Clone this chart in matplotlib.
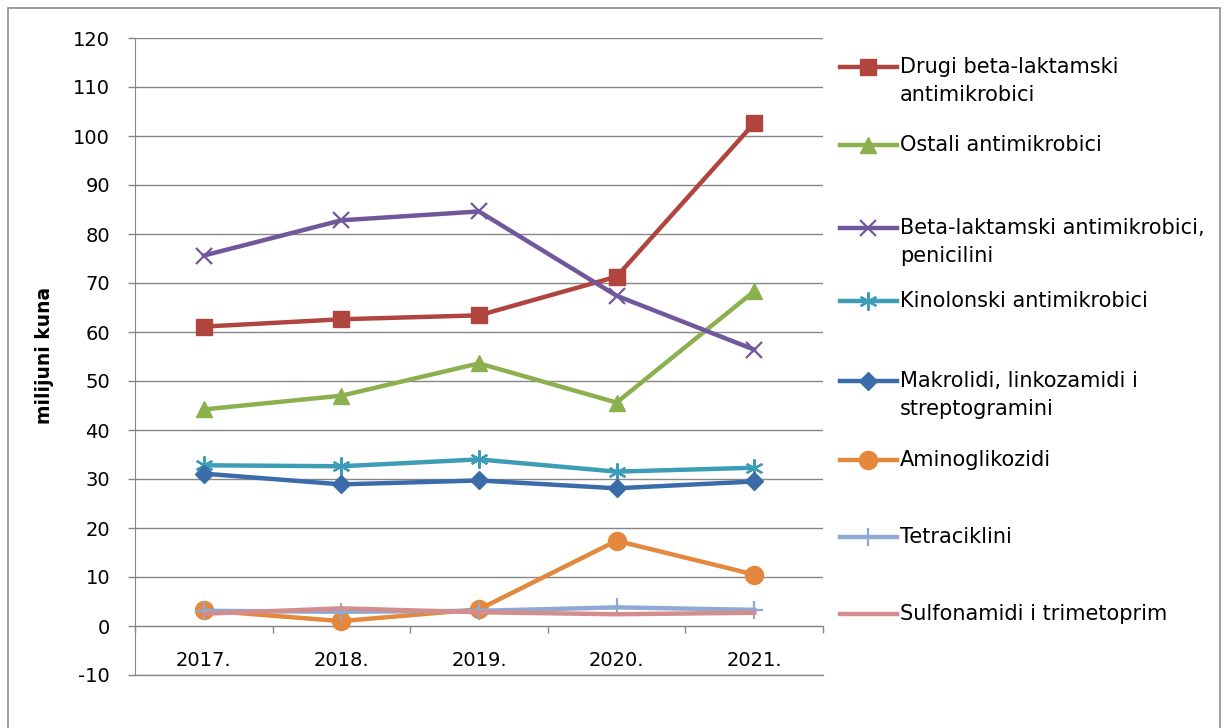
import numpy as np
import matplotlib.pyplot as plt
from matplotlib.lines import Line2D
from matplotlib.patches import Rectangle

plt.rcParams['font.family'] = ['DejaVu Sans']
plt.rcParams['axes.unicode_minus'] = False

years = ['2017.', '2018.', '2019.', '2020.', '2021.']

drugi_beta = [61.1, 62.6, 63.4, 71.3, 102.6]
ostali = [44.2, 47.0, 53.6, 45.6, 68.3]
penicilini = [75.6, 82.8, 84.6, 67.4, 56.4]
kinolonski = [32.8, 32.6, 34.0, 31.5, 32.3]
makrolidi = [31.1, 28.9, 29.7, 28.1, 29.5]
aminoglikozidi = [3.2, 1.0, 3.4, 17.4, 10.5]
tetraciklini = [3.1, 2.9, 3.1, 3.8, 3.3]
sulfonamidi = [2.5, 3.6, 2.8, 2.4, 2.7]

labels = ['Drugi beta-laktamski\nantimikrobici', 'Ostali antimikrobici',
          'Beta-laktamski antimikrobici,\npenicilini', 'Kinolonski antimikrobici',
          'Makrolidi, linkozamidi i\nstreptogramini', 'Aminoglikozidi',
          'Tetraciklini', 'Sulfonamidi i trimetoprim']

# (values, colour, marker, marker size) in the order of the legend
series = [
    (drugi_beta, '#B0443F', 's', 11),
    (ostali, '#8DB04E', '^', 12),
    (penicilini, '#71579B', 'x', 11),
    (kinolonski, '#3D9DB6', (6, 2, 0), 13),
    (makrolidi, '#3A6CAA', 'D', 9),
    (aminoglikozidi, '#E3883C', 'o', 13),
    (tetraciklini, '#8FAAD2', '+', 13),
    (sulfonamidi, '#D48C8C', None, 0),
]
thin_markers = ('x', '+', (6, 2, 0))

fig = plt.figure(figsize=(12.23, 7.28), dpi=100)
fig.add_artist(Rectangle((8 / 1223, -0.01), 1212 / 1223, 1 - 8 / 728 + 0.01,
                         transform=fig.transFigure, fill=False,
                         edgecolor='#8c8c8c', lw=1.2))

ax = fig.add_axes([135 / 1223, 1 - 675 / 728, 688 / 1223, 637 / 728])
x = np.arange(len(years))

# later series are drawn on top of earlier ones
for i, (vals, col, mk, ms) in enumerate(series):
    mew = 1.6 if mk in thin_markers else 1
    ax.plot(x, vals, color=col, lw=3.2, marker=mk, markersize=ms,
            markeredgewidth=mew, markerfacecolor=col, markeredgecolor=col,
            solid_joinstyle='round', zorder=3 + i * 0.01)

ax.set_xlim(-0.5, len(years) - 0.5)
ax.set_ylim(-10, 120)
ax.set_yticks(np.arange(-10, 121, 10))
ax.yaxis.grid(True, color='#878787', lw=1)
ax.axhline(-10, color='#878787', lw=1, clip_on=False, zorder=0.5)
ax.set_axisbelow(True)

# category axis crosses at zero, ticks between categories
ax.spines['bottom'].set_position(('data', 0))
ax.spines['bottom'].set_color('#878787')
ax.spines['left'].set_color('#878787')
ax.spines['top'].set_visible(False)
ax.spines['right'].set_visible(False)
ax.set_xticks(np.arange(-0.5, len(years), 1))
ax.set_xticklabels([])
ax.set_xticks(x, minor=True)
ax.set_xticklabels(years, minor=True)
ax.tick_params(axis='x', which='major', direction='out', length=5,
               color='#878787', width=1)
ax.tick_params(axis='x', which='minor', length=0, pad=18, labelsize=14)
ax.tick_params(axis='y', direction='out', length=5, color='#878787',
               width=1, labelsize=14, pad=13)

fig.text(45 / 1223, 1 - 355 / 728, 'milijuni kuna', rotation=90,
         ha='center', va='center', fontsize=13.5, fontweight='bold',
         family='Liberation Sans Narrow')

# legend drawn by hand so that each handle lines up with the first text row
rows = [67, 145, 228, 301, 381, 460, 537, 614]
for (vals, col, mk, ms), lab, ry in zip(series, labels, rows):
    yy = 1 - ry / 728
    fig.add_artist(Line2D([840 / 1223, 897 / 1223], [yy, yy], color=col,
                          lw=3.2, transform=fig.transFigure))
    if mk is not None:
        mew = 1.6 if mk in thin_markers else 1
        fig.add_artist(Line2D([868 / 1223], [yy], marker=mk, markersize=ms,
                              color=col, markeredgewidth=mew,
                              transform=fig.transFigure))
    fig.text(900 / 1223, yy + 10 / 728, lab, ha='left', va='top',
             fontsize=15, linespacing=1.48)

fig.savefig('out.png', dpi=100)
